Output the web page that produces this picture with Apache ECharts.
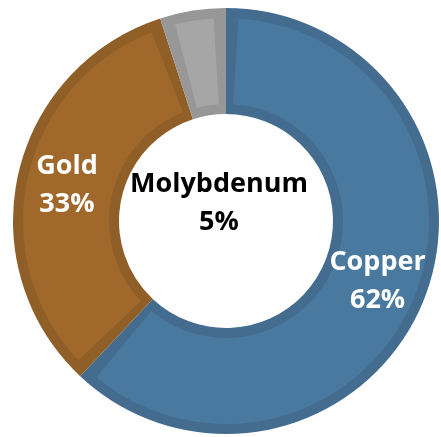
<!DOCTYPE html>
<html>
<head>
<meta charset="utf-8">
<script src="https://cdn.jsdelivr.net/npm/echarts@6/dist/echarts.min.js"></script>
<style>
  html, body { margin: 0; padding: 0; background: #fff; }
  #chart { width: 441px; height: 437px; }
</style>
</head>
<body>
<div id="chart"></div>
<script>
const metals = ['Copper', 'Gold', 'Molybdenum'];
const shares = [62, 33, 5];
const fillColors = ['#4a79a0', '#a0692b', '#a6a6a6'];
const edgeColors = ['#436c8f', '#905e27', '#979797'];

const myChart = echarts.init(document.getElementById('chart'));
const center = [226, 221];
const font = '"Open Sans", Lato, sans-serif';

// 底层：深色边框环
const edgeData = metals.map((name, i) => ({
  name: name,
  value: shares[i],
  itemStyle: { color: edgeColors[i] }
}));

// 上层：浅色填充 + 标签
const fillData = metals.map((name, i) => {
  const item = {
    name: name,
    value: shares[i],
    itemStyle: { color: fillColors[i] }
  };
  if (name === 'Molybdenum') {
    item.label = { position: 'center', color: '#000' };
  }
  return item;
});

const option = {
  animation: false,
  series: [
    {
      type: 'pie',
      silent: true,
      center: center,
      radius: [107, 213],
      startAngle: 90,
      clockwise: true,
      label: { show: false },
      labelLine: { show: false },
      data: edgeData
    },
    {
      type: 'pie',
      silent: true,
      center: center,
      radius: [117, 203],
      startAngle: 90,
      clockwise: true,
      padAngle: 7,
      labelLine: { show: false },
      label: {
        show: true,
        position: 'inside',
        formatter: '{b}\n{c}%',
        color: '#fff',
        fontFamily: font,
        fontWeight: 'bold',
        fontSize: 27,
        lineHeight: 38
      },
      // 中心标签略微偏左上
      labelLayout: function (params) {
        if (params.dataIndex === 2) {
          return { dx: -7, dy: -18 };
        }
      },
      data: fillData
    }
  ]
};
myChart.setOption(option);
</script>
</body>
</html>
